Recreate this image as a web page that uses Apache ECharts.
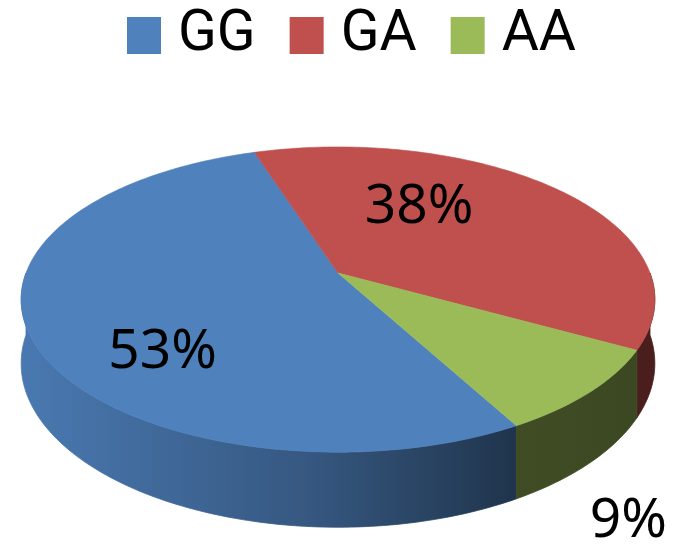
<!DOCTYPE html>
<html>
<head>
<meta charset="utf-8">
<script src="https://cdn.jsdelivr.net/npm/echarts@6/dist/echarts.min.js"></script>
<style>html,body{margin:0;padding:0;background:#fff}#c{width:675px;height:548px}</style>
</head>
<body>
<div id="c"></div>
<script>
const categories = ['GG', 'GA', 'AA'];
const values = [53, 38, 9];

const colors = ['#4f81bd', '#c0504d', '#9bbb59'];
const FONT = '"Noto Sans", "Liberation Sans", sans-serif';
const LEGEND_FONT = 'Roboto, "Noto Sans", sans-serif';
const CX = 338, CY = 273, A = 312, B = 148, K = 0.174, DEPTH = 62;
const START = -61;          // degrees, math orientation, slices run clockwise
const LABEL_SHIFT = 20;

const total = values.reduce((a, b) => a + b, 0);
const starts = [];
let acc = START;
values.forEach(v => { starts.push(acc); acc -= v / total * 360; });

function proj(phi, rho, drop) {
  const p = phi * Math.PI / 180;
  const u = rho * Math.cos(p), v = rho * Math.sin(p);
  const w = 1 / (1 + K * v);
  return [CX + A * u * w, CY - B * v * w + (drop || 0) * w];
}
function arc(a, b, rho, drop) {
  const pts = [];
  const n = Math.max(2, Math.ceil(Math.abs(b - a) / 1));
  for (let i = 0; i <= n; i++) pts.push(proj(a + (b - a) * i / n, rho, drop));
  return pts;
}
function darken(c, f) {
  const a = echarts.color.parse(c);
  return 'rgb(' + [0, 1, 2].map(i => Math.round(a[i] * f)).join(',') + ')';
}
function sideFill(c) {
  return new echarts.graphic.LinearGradient(CX - A, 0, CX + A, 0, [
    { offset: 0, color: darken(c, 0.93) },
    { offset: 0.45, color: darken(c, 0.68) },
    { offset: 0.78, color: darken(c, 0.41) },
    { offset: 1, color: darken(c, 0.38) }
  ], true);
}

function makeRender(idx) {
  return function (params, api) {
    const v = values[idx];
    const frac = v / total;
    const st = starts[idx];
    const en = st - frac * 360;
    const children = [];
    for (let k = -2; k <= 1; k++) {
      const lo = Math.max(en, -180 + 360 * k), hi = Math.min(st, 360 * k);
      if (hi - lo > 0.01) {
        const top = arc(lo, hi, 1, 0);
        const bot = arc(hi, lo, 1, DEPTH);
        const fill = sideFill(colors[idx]);
        children.push({
          type: 'polygon', z2: 1,
          shape: { points: top.concat(bot) },
          style: { fill: fill, stroke: fill, lineWidth: 0.8 }
        });
      }
    }
    const pts = [proj(0, 0, 0)].concat(arc(st, en, 1, 0));
    children.push({
      type: 'polygon', z2: 10,
      shape: { points: pts },
      style: { fill: colors[idx], stroke: colors[idx], lineWidth: 0.6 }
    });
    const pct = Math.round(frac * 100) + '%';
    const mid = (st + en) / 2;
    let pos, vAlign;
    if (frac < 0.12) {
      pos = proj(mid, 1.13, DEPTH);
      pos[1] += 12;
      vAlign = 'top';
    } else {
      pos = proj(mid + LABEL_SHIFT, 0.18 + frac, 0);
      vAlign = 'middle';
    }
    children.push({
      type: 'text', z2: 20,
      x: pos[0], y: pos[1],
      style: { text: pct, fill: '#000', fontSize: 55, fontFamily: FONT, align: 'center', verticalAlign: vAlign }
    });
    return { type: 'group', children: children };
  };
}

const chart = echarts.init(document.getElementById('c'), null, { renderer: 'canvas' });
chart.setOption({
  animation: false,
  backgroundColor: '#fff',
  legend: {
    data: categories,
    top: 2,
    left: 122,
    icon: 'rect',
    itemWidth: 34,
    itemHeight: 37,
    itemGap: 34,
    textStyle: { fontSize: 57, color: '#000', fontFamily: LEGEND_FONT, padding: [18, 0, 0, 12] }
  },
  series: categories.map((name, i) => ({
    type: 'custom',
    name: name,
    coordinateSystem: 'none',
    itemStyle: { color: colors[i] },
    data: [[values[i]]],
    renderItem: makeRender(i)
  }))
});
</script>
</body>
</html>
